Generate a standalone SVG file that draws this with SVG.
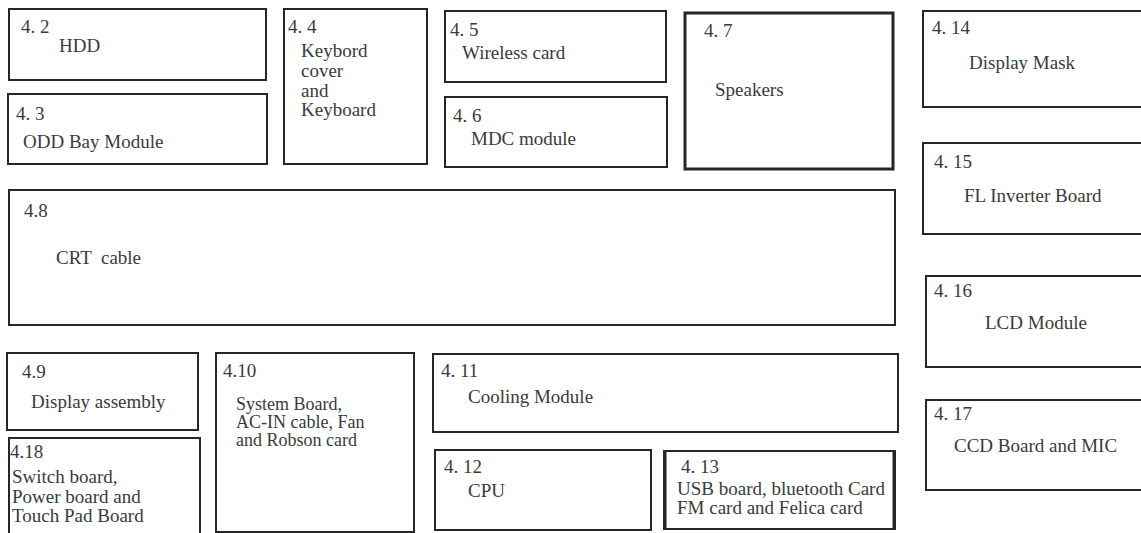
<svg xmlns="http://www.w3.org/2000/svg" width="1141" height="533" viewBox="0 0 1141 533">
<style>
.b{fill:#fff;stroke:#262626;stroke-width:2}
.k{fill:none;stroke:#262626}
text{font-family:"Liberation Serif","Times New Roman",serif;font-size:19px;fill:#3a3a3a}
.s{font-size:18px}
</style>
<rect width="1141" height="533" fill="#fff"/>
<g id="n42"><rect class="b" x="9" y="9" width="257" height="71"/><text x="21" y="33">4. 2</text><text x="59" y="52">HDD</text></g>
<g id="n43"><rect class="b" x="8" y="94" width="259" height="70"/><text x="16" y="120">4. 3</text><text x="23" y="148">ODD Bay Module</text></g>
<g id="n44"><rect class="b" x="284" y="9" width="143" height="155"/><text x="288" y="33">4. 4</text><text x="301" y="57">Keybord</text><text x="301" y="77">cover</text><text x="301" y="97">and</text><text x="301" y="116">Keyboard</text></g>
<g id="n45"><rect class="b" x="445" y="11" width="221" height="71"/><text x="450" y="36">4. 5</text><text x="462" y="59">Wireless card</text></g>
<g id="n46"><rect class="b" x="445" y="97" width="222" height="70"/><text x="453" y="122">4. 6</text><text x="471" y="145">MDC module</text></g>
<g id="n47"><rect class="b" x="685" y="13" width="208" height="156" style="stroke-width:3"/><text x="704" y="37">4. 7</text><text x="715" y="96">Speakers</text></g>
<g id="n414"><rect class="b" x="923" y="11" width="230" height="96"/><text x="932" y="34">4. 14</text><text x="969" y="69">Display Mask</text></g>
<g id="n415"><rect class="b" x="923" y="143" width="230" height="91"/><text x="934" y="168">4. 15</text><text x="964" y="202">FL Inverter Board</text></g>
<g id="n48"><rect class="b" x="9" y="190" width="886" height="135"/><text x="24" y="217">4.8</text><text x="56" y="264" xml:space="preserve">CRT  cable</text></g>
<g id="n416"><rect class="b" x="926" y="276" width="230" height="91"/><text x="934" y="297">4. 16</text><text x="985" y="329">LCD Module</text></g>
<g id="n417"><rect class="b" x="926" y="400" width="230" height="90"/><text x="934" y="420">4. 17</text><text x="954" y="452">CCD Board and MIC</text></g>
<g id="n49"><rect class="b" x="7" y="353" width="191" height="77"/><text x="22" y="378">4.9</text><text x="31" y="408">Display assembly</text></g>
<g id="n418"><rect class="b" x="9" y="438" width="191" height="110"/><text x="10" y="458">4.18</text><text x="12" y="483">Switch board,</text><text x="12" y="503">Power board and</text><text x="12" y="522">Touch Pad Board</text></g>
<g id="n410"><rect class="b" x="216" y="353" width="198" height="179"/><text x="223" y="377">4.10</text><text class="s" x="236" y="410">System Board,</text><text class="s" x="236" y="428">AC-IN cable, Fan</text><text class="s" x="236" y="446">and Robson card</text></g>
<g id="n411"><rect class="b" x="433" y="354" width="465" height="78"/><text x="441" y="377">4. 11</text><text x="468" y="403">Cooling Module</text></g>
<g id="n412"><rect class="b" x="435" y="450" width="216" height="80"/><text x="444" y="473">4. 12</text><text x="468" y="497">CPU</text></g>
<g id="n413"><rect class="b" x="664" y="451" width="231" height="78"/><line class="k" x1="665" y1="451" x2="665" y2="529" stroke-width="3"/><line class="k" x1="894" y1="451" x2="894" y2="529" stroke-width="3"/><text x="681" y="473">4. 13</text><text x="677" y="495">USB board, bluetooth Card</text><text x="677" y="514">FM card and Felica card</text></g>
<g id="connectors"></g>
</svg>
